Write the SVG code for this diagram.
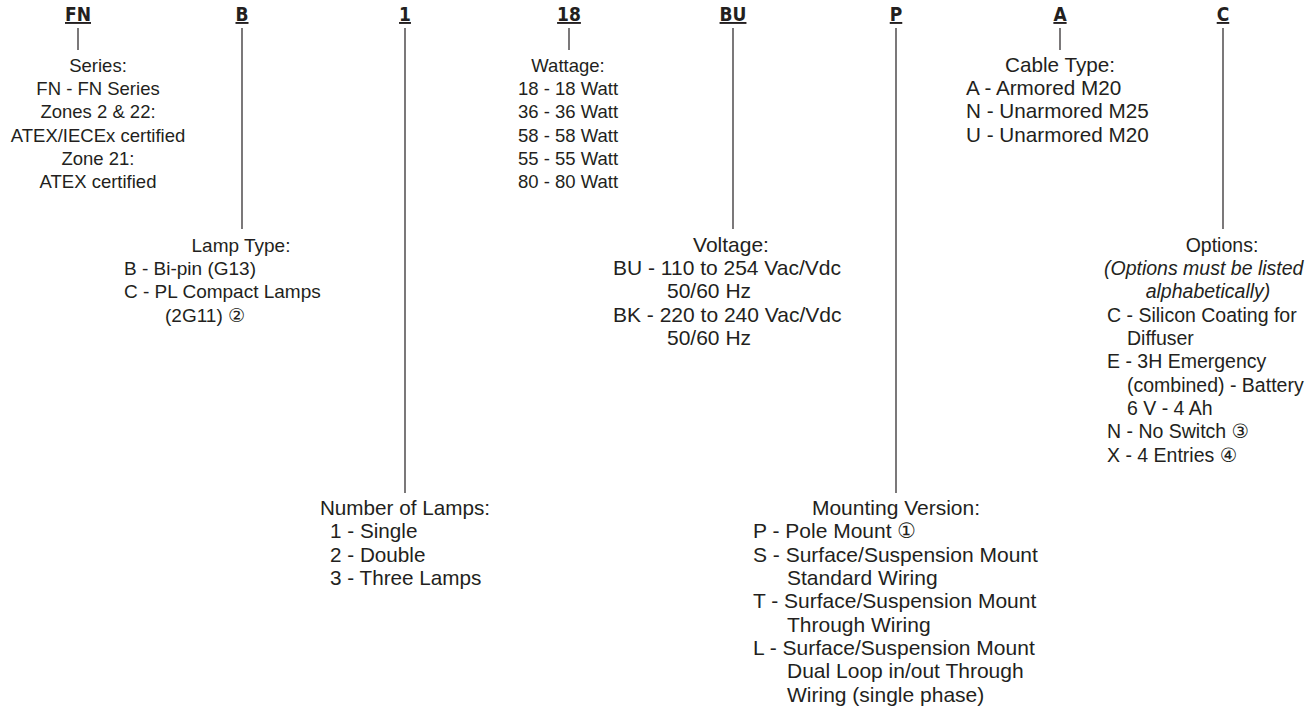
<svg xmlns="http://www.w3.org/2000/svg" width="1310" height="710" viewBox="0 0 1310 710">
<style>
text{font-family:"Liberation Sans","DejaVu Sans",Arial,sans-serif;font-size:20px;fill:#231f20}
.code{font-family:"Liberation Sans Narrow","DejaVu Sans Condensed","Arial Narrow",sans-serif;font-stretch:condensed;font-weight:bold;font-size:19px;text-anchor:middle;text-decoration:underline}
.c{text-anchor:middle}
.i{font-style:italic}
.ln{stroke:#231f20;stroke-width:1.2;fill:none}
#series text,#wattage text{font-size:18.5px}
#lamp-type text{font-size:19px}
#options text{font-size:19.5px}
#cable-type text,#number-of-lamps text{font-size:20.7px}
#voltage text,#mounting-version text{font-size:21px}
</style>
<rect width="1310" height="710" fill="#fff"/>
<g id="connectors">
<line class="ln" x1="78" y1="28" x2="78" y2="50"/>
<line class="ln" x1="242" y1="28" x2="242" y2="229"/>
<line class="ln" x1="405" y1="28" x2="405" y2="493"/>
<line class="ln" x1="569" y1="28" x2="569" y2="50"/>
<line class="ln" x1="733" y1="28" x2="733" y2="229"/>
<line class="ln" x1="896" y1="28" x2="896" y2="493"/>
<line class="ln" x1="1060" y1="28" x2="1060" y2="50"/>
<line class="ln" x1="1223" y1="28" x2="1223" y2="229"/>
</g>
<g id="codes">
<text class="code" x="78" y="21">FN</text>
<text class="code" x="242" y="21">B</text>
<text class="code" x="405" y="21">1</text>
<text class="code" x="569" y="21">18</text>
<text class="code" x="733" y="21">BU</text>
<text class="code" x="896" y="21">P</text>
<text class="code" x="1060" y="21">A</text>
<text class="code" x="1223" y="21">C</text>
</g>
<g id="series">
<text class="c" x="98" y="71.7">Series:</text>
<text class="c" x="98" y="95">FN - FN Series</text>
<text class="c" x="98" y="118.3">Zones 2 &amp; 22:</text>
<text class="c" x="98" y="141.7">ATEX/IECEx certified</text>
<text class="c" x="98" y="165">Zone 21:</text>
<text class="c" x="98" y="188.3">ATEX certified</text>
</g>
<g id="wattage">
<text class="c" x="568" y="71.7">Wattage:</text>
<text x="518" y="95">18 - 18 Watt</text>
<text x="518" y="118.3">36 - 36 Watt</text>
<text x="518" y="141.7">58 - 58 Watt</text>
<text x="518" y="165">55 - 55 Watt</text>
<text x="518" y="188.3">80 - 80 Watt</text>
</g>
<g id="cable-type">
<text class="c" x="1060" y="71.7">Cable Type:</text>
<text x="966" y="95">A - Armored M20</text>
<text x="966" y="118.3">N - Unarmored M25</text>
<text x="966" y="141.7">U - Unarmored M20</text>
</g>
<g id="lamp-type">
<text class="c" x="241" y="251.7">Lamp Type:</text>
<text x="124" y="275">B - Bi-pin (G13)</text>
<text x="124" y="298.3">C - PL Compact Lamps</text>
<text x="165" y="321.7">(2G11) ②</text>
</g>
<g id="voltage">
<text class="c" x="731" y="251.7">Voltage:</text>
<text x="613" y="275">BU - 110 to 254 Vac/Vdc</text>
<text x="667" y="298.3">50/60 Hz</text>
<text x="613" y="321.7">BK - 220 to 240 Vac/Vdc</text>
<text x="667" y="345">50/60 Hz</text>
</g>
<g id="options">
<text class="c" x="1222" y="251.7">Options:</text>
<text class="i" x="1104" y="275">(Options must be listed</text>
<text class="i c" x="1208" y="298.3">alphabetically)</text>
<text x="1107" y="321.7">C - Silicon Coating for</text>
<text x="1127" y="345">Diffuser</text>
<text x="1107" y="368.3">E - 3H Emergency</text>
<text x="1127" y="391.7">(combined) - Battery</text>
<text x="1127" y="415">6 V - 4 Ah</text>
<text x="1107" y="438.3">N - No Switch ③</text>
<text x="1107" y="461.7">X - 4 Entries ④</text>
</g>
<g id="number-of-lamps">
<text class="c" x="405" y="515">Number of Lamps:</text>
<text x="330" y="538.3">1 - Single</text>
<text x="330" y="561.7">2 - Double</text>
<text x="330" y="585">3 - Three Lamps</text>
</g>
<g id="mounting-version">
<text class="c" x="896" y="515">Mounting Version:</text>
<text x="753" y="538.3">P - Pole Mount ①</text>
<text x="753" y="561.7">S - Surface/Suspension Mount</text>
<text x="787" y="585">Standard Wiring</text>
<text x="753" y="608.3">T - Surface/Suspension Mount</text>
<text x="787" y="631.7">Through Wiring</text>
<text x="753" y="655">L - Surface/Suspension Mount</text>
<text x="787" y="678.3">Dual Loop in/out Through</text>
<text x="787" y="701.7">Wiring (single phase)</text>
</g>
</svg>
